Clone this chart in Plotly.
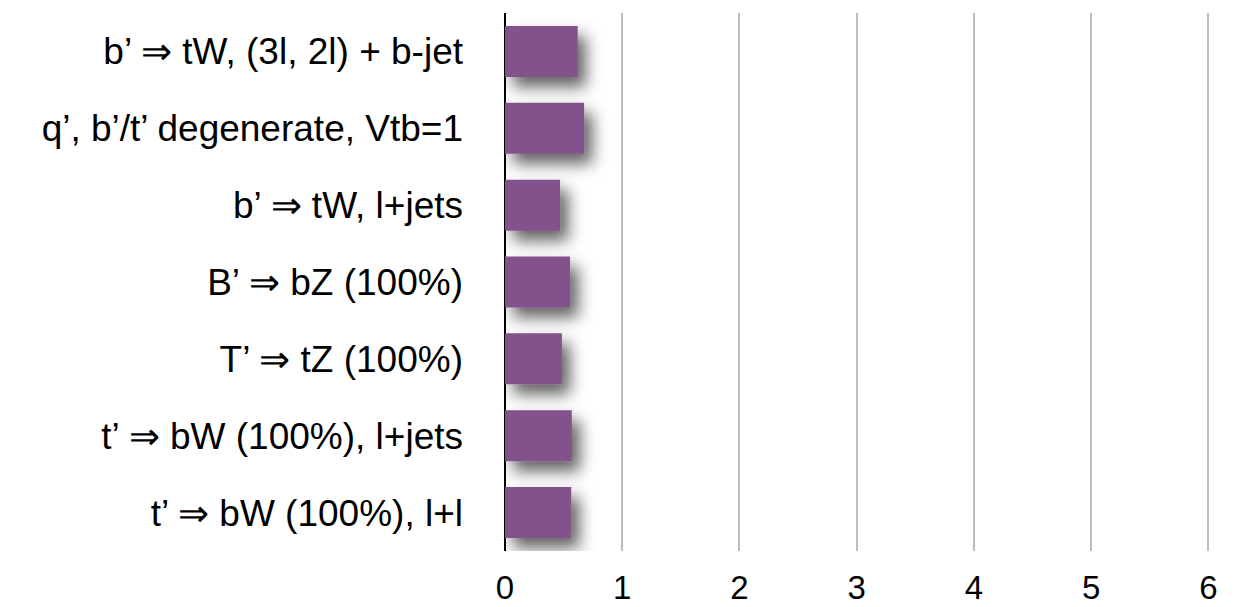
import plotly.graph_objects as go

# channels, top to bottom as on the slide
channels = [
    "b’ ⇒ tW, (3l, 2l) + b-jet",
    "q’, b’/t’ degenerate, Vtb=1",
    "b’ ⇒ tW, l+jets",
    "B’ ⇒ bZ (100%)",
    "T’ ⇒ tZ (100%)",
    "t’ ⇒ bW (100%), l+jets",
    "t’ ⇒ bW (100%), l+l",
]
values = [0.62, 0.675, 0.47, 0.555, 0.485, 0.57, 0.565]
x_ticks = [0, 1, 2, 3, 4, 5, 6]

font = "Liberation Sans, Helvetica, Arial, sans-serif"

fig = go.Figure()
fig.add_trace(go.Bar(
    x=values,
    y=channels,
    orientation="h",
    marker=dict(color="#83518B", line=dict(width=0)),
    cliponaxis=False,
    hoverinfo="x+y",
))

fig.update_layout(
    width=1241,
    height=607,
    margin=dict(l=505, r=28, t=13, b=56, autoexpand=False),
    paper_bgcolor="white",
    plot_bgcolor="white",
    showlegend=False,
    bargap=0.336,
    font=dict(family=font, color="black"),
)

fig.update_xaxes(
    range=[0, 6.04],
    tickvals=x_ticks,
    ticktext=[str(t) for t in x_ticks],
    tickfont=dict(size=33),
    showgrid=True,
    gridcolor="#BDBDBD",
    gridwidth=2,
    zeroline=True,
    zerolinecolor="black",
    zerolinewidth=2,
    showline=False,
    ticks="",
    ticklabelstandoff=14,
    automargin=False,
)
fig.update_yaxes(
    autorange="reversed",
    tickfont=dict(size=37),
    showgrid=False,
    showline=False,
    ticks="",
    ticklabelstandoff=41,
    automargin=False,
)

# soft drop shadow under the bars, as in the keynote original
shadow_js = """
document.body.style.margin = '0';
var gd = document.getElementById('{plot_id}');
var svg = gd.querySelector('svg.main-svg');
var ns = 'http://www.w3.org/2000/svg';
var defs = svg.querySelector('defs') || svg.insertBefore(document.createElementNS(ns, 'defs'), svg.firstChild);
var f = document.createElementNS(ns, 'filter');
f.setAttribute('id', 'barshadow');
f.setAttribute('x', '-50%'); f.setAttribute('y', '-60%');
f.setAttribute('width', '200%'); f.setAttribute('height', '230%');
var ds = document.createElementNS(ns, 'feDropShadow');
ds.setAttribute('dx', '8'); ds.setAttribute('dy', '10');
ds.setAttribute('stdDeviation', '8');
ds.setAttribute('flood-color', 'black');
ds.setAttribute('flood-opacity', '0.62');
f.appendChild(ds);
defs.appendChild(f);
gd.querySelectorAll('.bars .point path').forEach(function(p) {
    p.setAttribute('filter', 'url(#barshadow)');
});
"""

fig.write_html("out.html", post_script=shadow_js, config={"displayModeBar": False})
